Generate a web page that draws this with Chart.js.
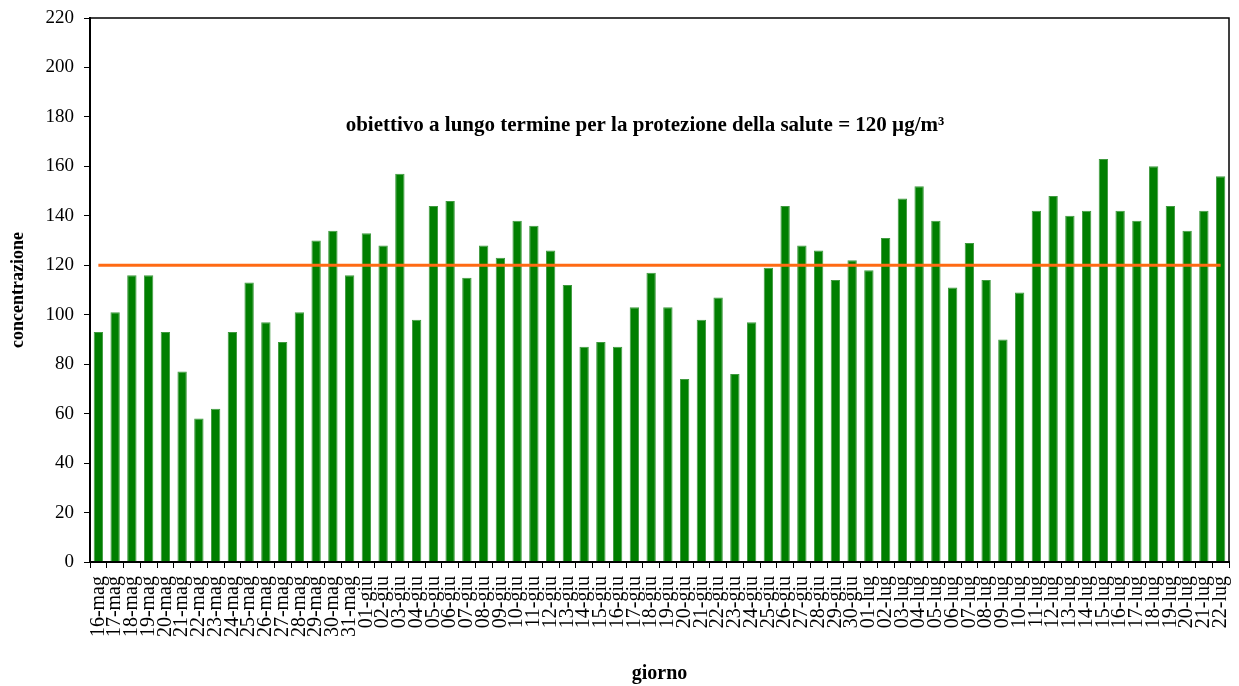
<!DOCTYPE html>
<html>
<head>
<meta charset="utf-8">
<script src="https://cdn.jsdelivr.net/npm/chart.js@4"></script>
<style>
  html, body { margin: 0; padding: 0; background: #fff; }
  #wrap { width: 1239px; height: 686px; }
</style>
</head>
<body>
<div id="wrap"><canvas id="myChart" width="1239" height="686"></canvas></div>
<script>
// giorni (16 maggio - 22 luglio)
const days = [
    '16-mag', '17-mag', '18-mag', '19-mag', '20-mag', '21-mag', '22-mag', '23-mag',
    '24-mag', '25-mag', '26-mag', '27-mag', '28-mag', '29-mag', '30-mag', '31-mag',
    '01-giu', '02-giu', '03-giu', '04-giu', '05-giu', '06-giu', '07-giu', '08-giu',
    '09-giu', '10-giu', '11-giu', '12-giu', '13-giu', '14-giu', '15-giu', '16-giu',
    '17-giu', '18-giu', '19-giu', '20-giu', '21-giu', '22-giu', '23-giu', '24-giu',
    '25-giu', '26-giu', '27-giu', '28-giu', '29-giu', '30-giu',
    '01-lug', '02-lug', '03-lug', '04-lug', '05-lug', '06-lug', '07-lug', '08-lug',
    '09-lug', '10-lug', '11-lug', '12-lug', '13-lug', '14-lug', '15-lug', '16-lug',
    '17-lug', '18-lug', '19-lug', '20-lug', '21-lug', '22-lug'
];

// concentrazione giornaliera (µg/m3)
const concentrazione = [
    93, 101, 116, 116, 93, 77, 58, 62,
    93, 113, 97, 89, 101, 130, 134, 116,
    133, 128, 157, 98, 144, 146, 115, 128,
    123, 138, 136, 126, 112, 87, 89, 87,
    103, 117, 103, 74, 98, 107, 76, 97,
    119, 144, 128, 126, 114, 122,
    118, 131, 147, 152, 138, 111, 129, 114,
    90, 109, 142, 148, 140, 142, 163, 142,
    138, 160, 144, 134, 142, 156
];

// obiettivo a lungo termine
const obiettivo = days.map(() => 120);

const yTicks = [0, 20, 40, 60, 80, 100, 120, 140, 160, 180, 200, 220];

const serif = '"Liberation Serif", "Times New Roman", serif';

// draws the frame around the plot and the target label
const framePlugin = {
    id: 'frame',
    afterDatasetsDraw(chart) {
        const { ctx, chartArea } = chart;
        ctx.save();
        ctx.strokeStyle = '#000';
        ctx.lineWidth = 1.5;
        ctx.strokeRect(chartArea.left, chartArea.top, chartArea.right - chartArea.left, chartArea.bottom - chartArea.top);

        ctx.fillStyle = '#000';
        ctx.font = 'bold 21px ' + serif;
        ctx.textAlign = 'center';
        ctx.textBaseline = 'middle';
        const y = chart.scales.y.getPixelForValue(176.5);
        ctx.fillText('obiettivo a lungo termine per la protezione della salute = 120 µg/m³', 645, y);
        ctx.restore();
    }
};

const ctx = document.getElementById('myChart').getContext('2d');
new Chart(ctx, {
    type: 'bar',
    data: {
        labels: days,
        datasets: [
            {
                type: 'line',
                label: 'obiettivo',
                data: obiettivo,
                borderColor: '#ff6a13',
                borderWidth: 3,
                pointRadius: 0,
                fill: false,
                order: 0
            },
            {
                label: 'concentrazione',
                data: concentrazione,
                backgroundColor: '#007f00',
                borderColor: '#3f9a3f',
                borderWidth: 1,
                barPercentage: 0.56,
                categoryPercentage: 1,
                order: 1
            }
        ]
    },
    options: {
        responsive: false,
        animation: false,
        layout: { padding: { top: 18, right: 10, left: 0, bottom: 0 } },
        plugins: {
            legend: { display: false },
            tooltip: { enabled: false }
        },
        scales: {
            x: {
                offset: true,
                grid: {
                    offset: true,
                    drawOnChartArea: false,
                    drawTicks: true,
                    tickLength: 6,
                    color: '#000'
                },
                border: { display: true, color: '#000', width: 2 },
                ticks: {
                    autoSkip: false,
                    minRotation: 90,
                    maxRotation: 90,
                    color: '#000',
                    padding: 8,
                    font: { family: serif, size: 20 }
                },
                title: {
                    display: true,
                    text: 'giorno',
                    color: '#000',
                    font: { family: serif, size: 20, weight: 'bold' },
                    padding: { top: 0, bottom: 0 }
                },
                afterFit(scale) {
                    scale.height = 124;
                    scale.paddingLeft = 0;
                    scale.paddingRight = 0;
                }
            },
            y: {
                min: 0,
                max: 220,
                afterBuildTicks(scale) {
                    scale.ticks = yTicks.map(v => ({ value: v }));
                },
                grid: {
                    drawOnChartArea: false,
                    drawTicks: true,
                    tickLength: 6,
                    color: '#000'
                },
                border: { display: true, color: '#000', width: 2 },
                ticks: {
                    color: '#000',
                    padding: 10,
                    font: { family: serif, size: 19 }
                },
                title: {
                    display: true,
                    text: 'concentrazione',
                    color: '#000',
                    font: { family: serif, size: 18, weight: 'bold' },
                    padding: { top: 8, bottom: 0 }
                },
                afterFit(scale) {
                    scale.width = 90;
                    scale.paddingTop = 0;
                    scale.paddingBottom = 0;
                }
            }
        }
    },
    plugins: [framePlugin]
});
</script>
</body>
</html>
